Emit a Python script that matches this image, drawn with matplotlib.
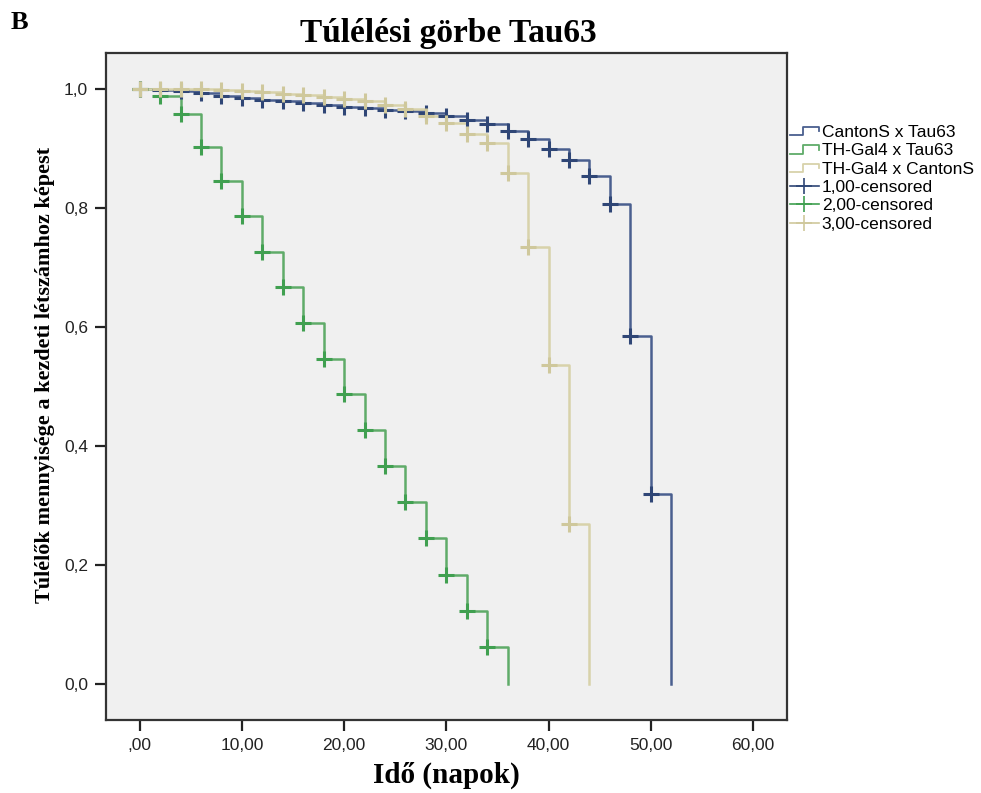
"""
Kaplan-Meier style survival curves (Tau63), redrawn from the SPSS figure.
"""

import matplotlib
matplotlib.use('Agg')
import matplotlib.pyplot as plt
from matplotlib.legend_handler import HandlerBase
from matplotlib.lines import Line2D

# Days (every second day) and survival fractions.
days_canton_tau = [0, 2, 4, 6, 8, 10, 12, 14, 16, 18, 20, 22, 24, 26, 28,
                   30, 32, 34, 36, 38, 40, 42, 44, 46, 48, 50, 52]
surv_canton_tau = [1.0, 0.998, 0.996, 0.993, 0.988, 0.985, 0.982, 0.980, 0.977,
                   0.973, 0.970, 0.968, 0.965, 0.962, 0.960, 0.955, 0.948, 0.941,
                   0.930, 0.916, 0.899, 0.881, 0.853, 0.806, 0.585, 0.319, 0.0]

days_thgal_tau = [0, 2, 4, 6, 8, 10, 12, 14, 16, 18, 20, 22, 24, 26, 28,
                  30, 32, 34, 36]
surv_thgal_tau = [1.0, 0.988, 0.958, 0.903, 0.846, 0.786, 0.726, 0.667, 0.606,
                  0.546, 0.487, 0.427, 0.367, 0.306, 0.245, 0.184, 0.123, 0.062, 0.0]

days_thgal_canton = [0, 2, 4, 6, 8, 10, 12, 14, 16, 18, 20, 22, 24, 26, 28,
                     30, 32, 34, 36, 38, 40, 42, 44]
surv_thgal_canton = [1.0, 1.0, 1.0, 0.999, 0.998, 0.997, 0.995, 0.992, 0.990,
                     0.987, 0.983, 0.980, 0.973, 0.966, 0.955, 0.942, 0.925,
                     0.909, 0.859, 0.735, 0.536, 0.270, 0.0]

group_names = ['CantonS x Tau63', 'TH-Gal4 x Tau63', 'TH-Gal4 x CantonS']
censored_names = ['1,00-censored', '2,00-censored', '3,00-censored']
line_colors = ['#4a5f8f', '#5fab69', '#d8d2aa']
mark_colors = ['#2f4676', '#40a050', '#cfc89c']

x_ticks = [0, 10, 20, 30, 40, 50, 60]
x_tick_labels = [',00', '10,00', '20,00', '30,00', '40,00', '50,00', '60,00']
y_ticks = [0.0, 0.2, 0.4, 0.6, 0.8, 1.0]
y_tick_labels = ['0,0', '0,2', '0,4', '0,6', '0,8', '1,0']


class StepIcon(HandlerBase):
    """Small step symbol like the one SPSS puts in its legend."""

    def create_artists(self, legend, orig_handle, xdescent, ydescent,
                       width, height, fontsize, trans):
        x0, y0 = -xdescent, -ydescent
        xs = [x0, x0 + 0.45 * width, x0 + 0.45 * width, x0 + width, x0 + width]
        ys = [y0 + 0.1 * height, y0 + 0.1 * height, y0 + 0.8 * height,
              y0 + 0.8 * height, y0 + 0.45 * height]
        line = Line2D(xs, ys, color=orig_handle.get_color(), lw=1.3,
                      transform=trans)
        return [line]


fig = plt.figure(figsize=(9.81, 7.93), dpi=100)
ax = fig.add_axes([0.108, 0.092, 0.694, 0.841])
ax.set_facecolor('#f0f0f0')

series = [(days_canton_tau, surv_canton_tau),
          (days_thgal_tau, surv_thgal_tau),
          (days_thgal_canton, surv_thgal_canton)]

step_handles = []
for (x, y), color, name in zip(series, line_colors, group_names):
    h, = ax.step(x, y, where='post', color=color, lw=1.8, label=name)
    step_handles.append(h)

mark_handles = []
for (x, y), color, name in zip(series, mark_colors, censored_names):
    ax.plot(x[:-1], y[:-1], '+', color=color, ms=12, mew=2.2)
    mark_handles.append(Line2D([], [], color=color, marker='+', ms=12, mew=1.2,
                               lw=1.2))

ax.set_xlim(-3.3, 63.3)
ax.set_ylim(-0.06, 1.06)
ax.set_xticks(x_ticks)
ax.set_xticklabels(x_tick_labels)
ax.set_yticks(y_ticks)
ax.set_yticklabels(y_tick_labels)
ax.tick_params(direction='out', length=8, width=1.6, color='#222222',
               labelsize=12.5, labelcolor='#222222', pad=5)
for lab in ax.get_xticklabels() + ax.get_yticklabels():
    lab.set_family('Liberation Sans')
for spine in ax.spines.values():
    spine.set_color('#333333')
    spine.set_linewidth(1.6)

fig.text(0.011, 0.972, 'B', family='Liberation Serif', weight='bold',
         fontsize=19, va='center', ha='left')
fig.text(0.457, 0.958, 'Túlélési görbe Tau63', family='Liberation Serif',
         weight='bold', fontsize=24, ha='center', va='center')
fig.text(0.455, 0.022, 'Idő (napok)', family='Liberation Serif',
         weight='bold', fontsize=21, ha='center', va='center')
fig.text(0.046, 0.527, 'Túlélők mennyisége a kezdeti létszámhoz képest',
         family='Liberation Serif', weight='bold', fontsize=16,
         rotation=90, ha='center', va='center')

handles = step_handles + mark_handles
labels = group_names + censored_names
handler_map = {h: StepIcon() for h in step_handles}
fig.legend(handles, labels, handler_map=handler_map, loc='upper left',
           bbox_to_anchor=(0.805, 0.843), frameon=False,
           prop={'family': 'Liberation Sans', 'size': 12.5},
           handlelength=1.7, handletextpad=0.15, labelspacing=0.19,
           borderpad=0, borderaxespad=0)

plt.savefig('out.png', dpi=100)
